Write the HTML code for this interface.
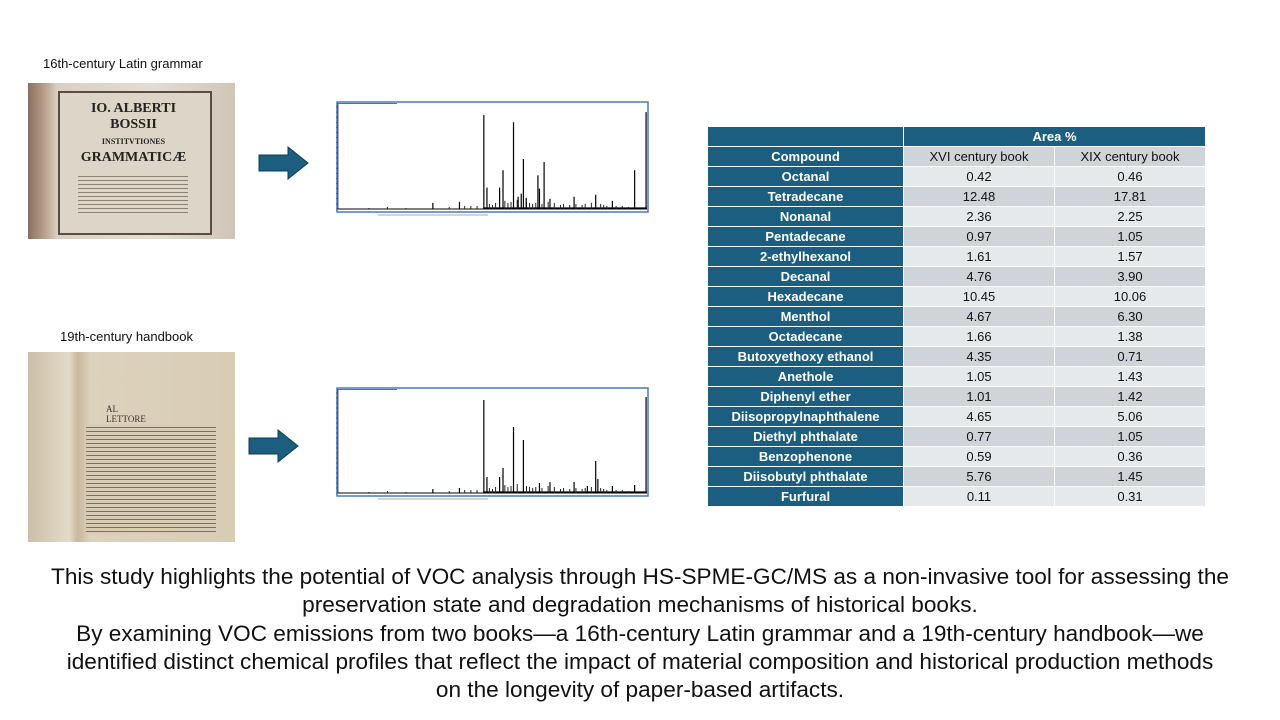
<!DOCTYPE html>
<html><head><meta charset="utf-8"><style>
body{margin:0;width:1280px;height:720px;background:#fff;position:relative;overflow:hidden;font-family:"Liberation Sans",sans-serif}
.lbl{position:absolute;font-size:13px;color:#111}
.photo{position:absolute;overflow:hidden}
.arrow{position:absolute}
table{position:absolute;left:707px;top:126px;border-collapse:collapse;font-size:13px}
td{height:19px;padding:0;text-align:center;border:1px solid #fff;line-height:18px}
td.c{background:#1b5e80;color:#fff;font-weight:bold;width:195px}
tr.o td.v{background:#e6e9ec}tr.e td.v{background:#cfd4da}
td.v{width:150px;color:#111}
#para{position:absolute;left:0;top:563px;width:1280px;text-align:center;font-size:22.6px;line-height:28.3px;color:#111;white-space:nowrap}
</style></head><body>
<div class="lbl" style="left:43px;top:56px">16th-century Latin grammar</div>
<div class="lbl" style="left:60px;top:329px">19th-century handbook</div>
<div class="photo" style="left:28px;top:83px;width:207px;height:156px;background:linear-gradient(90deg,#8a7060 0%,#b9a08a 8%,#d9cfc2 14%,#e4ddd2 60%,#cfc5b8 100%)">
<div style="position:absolute;left:30px;top:8px;width:150px;height:140px;background:#ddd5c8;border:2px solid #5a4c40"></div>
<div style="position:absolute;left:48px;top:18px;width:115px;font:bold 14px 'Liberation Serif',serif;color:#222;text-align:center;line-height:16px">IO. ALBERTI<br>BOSSII<br><span style="font-size:8px">INSTITVTIONES</span><br>GRAMMATICÆ</div>
<div style="position:absolute;left:50px;top:90px;width:110px;height:40px;background:repeating-linear-gradient(#ddd5c8 0 3px,#8c8274 3px 4px)"></div>
</div>
<div class="photo" style="left:28px;top:352px;width:207px;height:190px;background:linear-gradient(90deg,#cdbfa8 0%,#e3dac8 20%,#c8b89d 24%,#ddd2bd 30%,#d8ccb4 100%)">
<div style="position:absolute;left:78px;top:52px;width:52px;font:9px 'Liberation Serif',serif;color:#333">AL LETTORE</div>
<div style="position:absolute;left:58px;top:72px;width:130px;height:110px;background:repeating-linear-gradient(#d8ccb4 0 3px,#7d7060 3px 4px)"></div>
</div>
<svg class="arrow" style="left:258px;top:146px" width="52" height="34"><polygon points="1,9 30,9 30,1 50,17 30,33 30,25 1,25" fill="#1b5e80" stroke="#0f3c55" stroke-width="1"/></svg>
<svg class="arrow" style="left:248px;top:429px" width="52" height="34"><polygon points="1,9 30,9 30,1 50,17 30,33 30,25 1,25" fill="#1b5e80" stroke="#0f3c55" stroke-width="1"/></svg>
<svg id="ch" width="1280" height="720" style="position:absolute;left:0;top:0;pointer-events:none"></svg>
<table>
<tr><td class="c"></td><td class="c" colspan="2">Area %</td></tr>
<tbody id="tb"></tbody></table>
<div id="para">This study highlights the potential of VOC analysis through HS-SPME-GC/MS as a non-invasive tool for assessing the<br>preservation state and degradation mechanisms of historical books.<br>By examining VOC emissions from two books—a 16th-century Latin grammar and a 19th-century handbook—we<br>identified distinct chemical profiles that reflect the impact of material composition and historical production methods<br>on the longevity of paper-based artifacts.</div>
<script>
const compounds=["Octanal","Tetradecane","Nonanal","Pentadecane","2-ethylhexanol","Decanal","Hexadecane","Menthol","Octadecane","Butoxyethoxy ethanol","Anethole","Diphenyl ether","Diisopropylnaphthalene","Diethyl phthalate","Benzophenone","Diisobutyl phthalate","Furfural"];
const xvi=["0.42","12.48","2.36","0.97","1.61","4.76","10.45","4.67","1.66","4.35","1.05","1.01","4.65","0.77","0.59","5.76","0.11"];
const xix=["0.46","17.81","2.25","1.05","1.57","3.90","10.06","6.30","1.38","0.71","1.43","1.42","5.06","1.05","0.36","1.45","0.31"];
const tb=document.getElementById('tb');
let h=document.createElement('tr');h.className='e';


h.innerHTML='<td class="c">Compound</td><td class="v">XVI century book</td><td class="v">XIX century book</td>';tb.appendChild(h);
compounds.forEach((c,i)=>{const r=document.createElement('tr');r.className=i%2?'e':'o';


r.innerHTML='<td class="c">'+c+'</td><td class="v">'+xvi[i]+'</td><td class="v">'+xix[i]+'</td>';tb.appendChild(r);});

const rt1=[0.307,0.393,0.472,0.482,0.523,0.534,0.568,0.583,0.593,0.600,0.609,0.647,0.652,0.667,0.686,0.764,0.834,0.888,0.960,0.997];
const ht1=[0.06,0.07,0.92,0.21,0.21,0.38,0.85,0.12,0.15,0.49,0.11,0.33,0.20,0.46,0.10,0.12,0.14,0.08,0.38,0.95];
const rt2=[0.307,0.393,0.472,0.482,0.523,0.534,0.568,0.600,0.652,0.686,0.764,0.807,0.834,0.841,0.888,0.960,0.997];
const ht2=[0.04,0.05,0.93,0.16,0.16,0.25,0.66,0.53,0.10,0.11,0.11,0.07,0.32,0.14,0.07,0.08,0.96];
const noiseRt=[0.10,0.16,0.22,0.36,0.41,0.43,0.45,0.49,0.50,0.51,0.54,0.55,0.56,0.58,0.61,0.62,0.63,0.64,0.66,0.68,0.70,0.72,0.73,0.75,0.77,0.79,0.80,0.82,0.85,0.86,0.87,0.90,0.92,0.94];
const noiseHt=[0.01,0.02,0.01,0.02,0.03,0.03,0.03,0.05,0.04,0.06,0.08,0.06,0.07,0.09,0.07,0.06,0.05,0.06,0.05,0.07,0.06,0.04,0.05,0.04,0.05,0.04,0.05,0.06,0.05,0.04,0.03,0.03,0.03,0.02];
const NS='http://www.w3.org/2000/svg',svg=document.getElementById('ch');
function mk(t,a){const e=document.createElementNS(NS,t);for(const k in a)e.setAttribute(k,a[k]);svg.appendChild(e);return e;}
function chart(x0,y0,w,hh,rt,ht,name){
 const box=mk('rect',{x:x0,y:y0,width:w,height:hh,fill:'#fff',stroke:'#3b6fc4','stroke-width':1.4});
 
 
 const L=x0+1,R=x0+w-1,B=y0+hh-3,T=y0+5;
 const X=f=>L+f*(R-L),Y=v=>B-v*(B-T);
 mk('line',{x1:L,y1:y0+1,x2:L,y2:B,stroke:'#000','stroke-width':0.6});
 for(let i=0;i<=20;i++)mk('line',{x1:L-2,x2:L,y1:Y(i/20),y2:Y(i/20),stroke:'#444','stroke-width':0.6});
 mk('line',{x1:x0+1,y1:y0+1.5,x2:x0+60,y2:y0+1.5,stroke:'#a55','stroke-width':1});
 mk('line',{x1:L,y1:B,x2:R,y2:B,stroke:'#000','stroke-width':1});
 mk('line',{x1:X(0.47),y1:B-1,x2:R,y2:B-1,stroke:'#000','stroke-width':1.2});
 noiseRt.forEach((f,i)=>{const p=mk('line',{x1:X(f),x2:X(f),y1:B,y2:Y(noiseHt[i]),stroke:'#222','stroke-width':1});
  
  });
 rt.forEach((f,i)=>{const p=mk('line',{x1:X(f),x2:X(f),y1:B,y2:Y(ht[i]),stroke:'#000','stroke-width':1.2});
  
  });
 mk('line',{x1:L+40,x2:L+150,y1:y0+hh+3,y2:y0+hh+3,stroke:'#aaa','stroke-width':1});
}
chart(337,102,311,110,rt1,ht1,'chromatogram-xvi');
chart(337,388,311,108,rt2,ht2,'chromatogram-xix');
</script>
</body></html>
